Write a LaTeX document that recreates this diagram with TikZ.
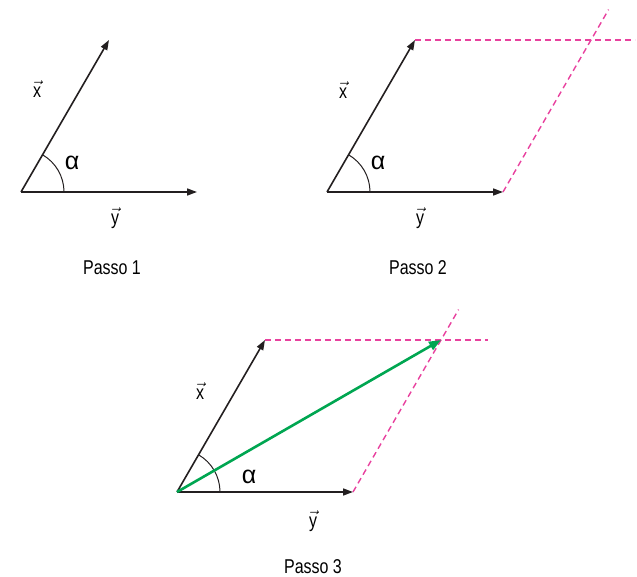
\documentclass[tikz,border=0pt]{standalone}
\usepackage{fontspec}
\usepackage{xcolor}
\usetikzlibrary{arrows.meta, calc}
\newfontfamily\narrowfont[FakeStretch=0.8]{Liberation Sans}
\newcommand{\veclabel}[1]{$\vec{\mbox{\narrowfont #1}}$}
\definecolor{vecblack}{HTML}{231F20}
\definecolor{guidepink}{HTML}{E8419E}
\definecolor{sumgreen}{HTML}{00A651}

\begin{document}
\begin{tikzpicture}[x=1pt, y=-1pt, every node/.style={font=\narrowfont\fontsize{20}{24}\selectfont, inner sep=0pt},
  vec/.style={-{Triangle[length=10pt, width=7pt]}, line width=1.6pt, draw=vecblack},
  guide/.style={dashed, dash pattern=on 6pt off 4pt, line width=1.4pt, draw=guidepink},
  result/.style={-{Triangle[length=12pt, width=9pt]}, line width=2.6pt, draw=sumgreen, fill=sumgreen},
  anglelab/.style={font=\fontspec{Liberation Sans}\fontsize{25}{28}\selectfont}]
  \useasboundingbox (0,0) rectangle (637,577);

  % Passo 1
  \coordinate (origin1) at (21,192);
  \coordinate (xtip1) at (109,40);
  \coordinate (ytip1) at (197,192);
  \draw[vec] (origin1) -- (xtip1);
  \draw[vec] (origin1) -- (ytip1);
  \draw[line width=1pt, vecblack] ($(origin1)+(43pt,0)$) arc[start angle=0, end angle=60, radius=43pt];
  \node (xlab1) at (37,89) {\veclabel{x}};
  \node (ylab1) at (115,218) {\veclabel{y}};
  \node[anglelab] (alpha1) at (72,163) {α};
  \node (step1) at (112,268) {Passo 1};

  % Passo 2
  \coordinate (origin2) at (327,192);
  \coordinate (xtip2) at (415,40);
  \coordinate (ytip2) at (503,192);
  \coordinate (sum2) at (591,40);
  \draw[guide] (xtip2) -- (635,40);
  \draw[guide] (ytip2) -- ($(ytip2)!1.2!(sum2)$);
  \draw[vec] (origin2) -- (xtip2);
  \draw[vec] (origin2) -- (ytip2);
  \draw[line width=1pt, vecblack] ($(origin2)+(43pt,0)$) arc[start angle=0, end angle=60, radius=43pt];
  \node (xlab2) at (343,90) {\veclabel{x}};
  \node (ylab2) at (420,218) {\veclabel{y}};
  \node[anglelab] (alpha2) at (378,163) {α};
  \node (step2) at (418,268) {Passo 2};

  % Passo 3
  \coordinate (origin3) at (177,492);
  \coordinate (xtip3) at (265,340);
  \coordinate (ytip3) at (353,492);
  \coordinate (sum3) at (441,340);
  \draw[guide] (xtip3) -- (488,340);
  \draw[guide] (ytip3) -- ($(ytip3)!1.2!(sum3)$);
  \draw[vec] (origin3) -- (xtip3);
  \draw[vec] (origin3) -- (ytip3);
  \draw[line width=1pt, vecblack] ($(origin3)+(43pt,0)$) arc[start angle=0, end angle=60, radius=43pt];
  \draw[result] (origin3) -- (sum3);
  \node (xlab3) at (200,391) {\veclabel{x}};
  \node (ylab3) at (313,521) {\veclabel{y}};
  \node[anglelab] (alpha3) at (249,477) {α};
  \node (step3) at (313,567) {Passo 3};
\end{tikzpicture}
\end{document}
